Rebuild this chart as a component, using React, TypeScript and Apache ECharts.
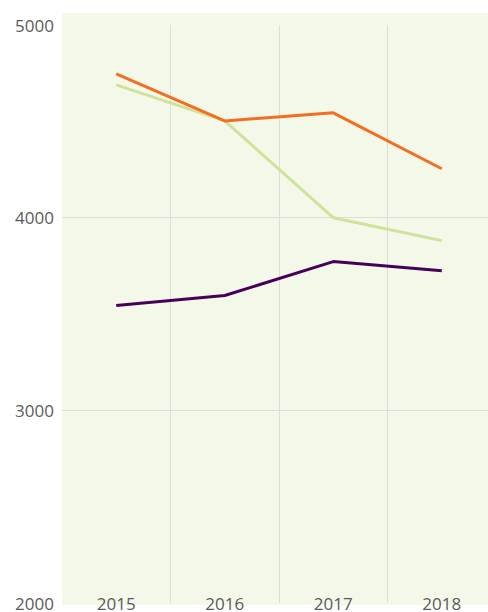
import React, { useEffect, useRef } from "react";
import * as echarts from "echarts";

const categories = ["2015", "2016", "2017", "2018"];
const orangeSeries = [4746, 4502, 4544, 4254];
const greenSeries = [4689, 4502, 4000, 3881];
const purpleSeries = [3544, 3596, 3772, 3725];
const gridValues = [3000, 4000];

export default function App() {
  const ref = useRef<HTMLDivElement>(null);
  useEffect(() => {
    if (!ref.current) return;
    const chart = echarts.init(ref.current, null, { renderer: "svg" });
    const font = "'Open Sans', sans-serif";
    const mkLine = (name: string, data: number[], color: string, extra: any = {}) => ({
      type: "line",
      name,
      data,
      symbol: "none",
      lineStyle: { color, width: 3 },
      itemStyle: { color },
      ...extra,
    });
    chart.setOption({
      animation: false,
      graphic: {
        elements: [
          {
            type: "rect",
            z: -10,
            silent: true,
            shape: { x: 62, y: 13, width: 430, height: 592 },
            style: { fill: "#f4f8e8" },
          },
        ],
      },
      grid: { left: 62, right: 0, top: 25, bottom: 8 },
      xAxis: {
        type: "category",
        data: categories,
        boundaryGap: true,
        axisLine: { show: false },
        axisTick: { show: false },
        axisLabel: {
          margin: -8,
          color: "#5a5a5a",
          fontSize: 17,
          fontFamily: font,
        },
        splitLine: {
          show: true,
          interval: (index: number) => index > 0,
          lineStyle: { color: "#dddddd", width: 1 },
        },
      },
      yAxis: {
        type: "value",
        min: 2000,
        max: 5000,
        interval: 1000,
        axisLine: { show: false },
        axisTick: { show: false },
        splitLine: { show: false },
        axisLabel: {
          margin: 8,
          color: "#5a5a5a",
          fontSize: 17,
          fontFamily: font,
          formatter: (v: number) => String(v),
        },
      },
      series: [
        mkLine("purple", purpleSeries, "#46005a", {
          markLine: {
            silent: true,
            symbol: "none",
            label: { show: false },
            lineStyle: { color: "#dddddd", width: 1, type: "solid" },
            data: gridValues.map((v) => ({ yAxis: v })),
            z: 0,
          },
        }),
        mkLine("green", greenSeries, "#cde39b"),
        mkLine("orange", orangeSeries, "#f36e21"),
      ],
    });
    return () => chart.dispose();
  }, []);
  return (
    <div
      ref={ref}
      style={{ position: "absolute", left: 0, top: 0, width: 496, height: 612 }}
    />
  );
}
